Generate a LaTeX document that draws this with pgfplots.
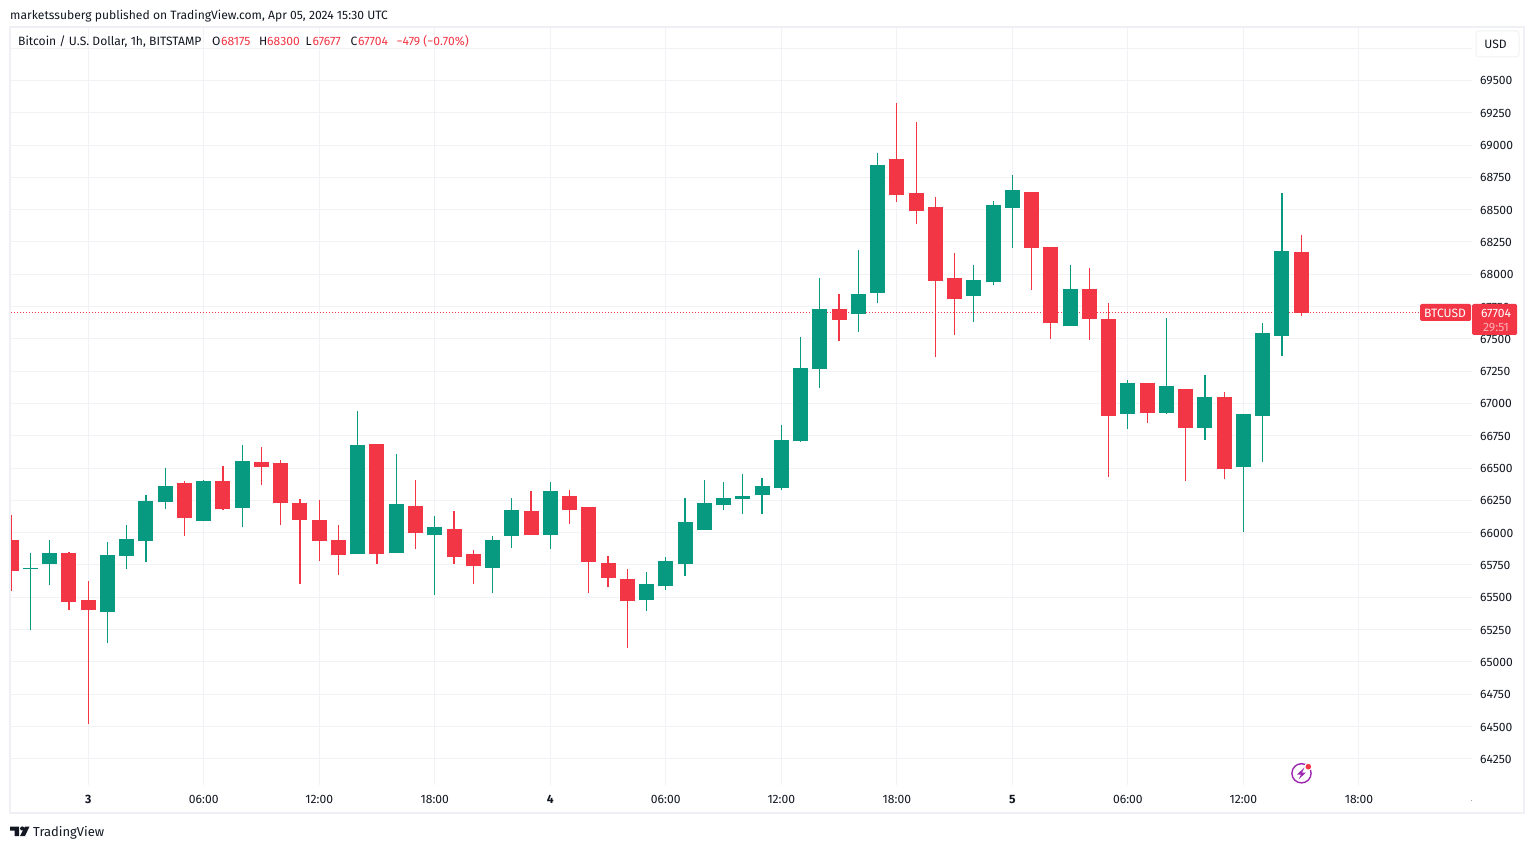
\documentclass[border=0pt]{standalone}
\usepackage{fontspec}
\setmainfont{Fira Sans}
\usepackage{pgfplots}
\usepackage{pgfplotstable}
\pgfplotsset{compat=1.18}
\definecolor{tvgreen}{HTML}{089981}
\definecolor{tvred}{HTML}{F23645}
\definecolor{tvgrid}{HTML}{F1F2F5}
\definecolor{tvframe}{HTML}{EFF0F5}
\definecolor{tvtext}{HTML}{131722}
\definecolor{tvpurple}{HTML}{9C27B0}
\newcommand{\tvfont}{\fontsize{12.1}{14}\selectfont}
\pgfplotstableread{
h o hi l c
-3 65715 65841 65245 65725
-2 65756 65942 65593 65841
1 65384 65926 65144 65826
2 65818 66058 65717 65950
3 65934 66290 65771 66244
4 66236 66499 66182 66360
6 66089 66406 66089 66399
8 66190 66677 66042 66553
14 65833 66941 65833 66677
16 65841 66608 65841 66220
18 65980 66128 65516 66042
21 65725 65973 65531 65942
22 65973 66267 65880 66174
24 65980 66391 65872 66321
29 65477 65694 65392 65601
30 65586 65810 65555 65779
31 65756 66267 65663 66081
32 66019 66406 66019 66228
33 66213 66391 66174 66267
34 66259 66453 66144 66282
35 66290 66422 66144 66360
36 66344 66832 66329 66716
37 66708 67513 66700 67273
38 67266 67970 67119 67730
40 67692 68187 67552 67847
41 67854 68938 67777 68845
46 67831 68071 67630 67955
47 67939 68567 67916 68536
48 68512 68768 68203 68652
51 67599 68071 67599 67885
54 66917 67181 66801 67157
56 66925 67661 66917 67134
58 66809 67219 66716 67049
60 66507 66917 66004 66917
61 66902 67622 66546 67545
62 67521 68629 67366 68180
}\upcandles
\pgfplotstableread{
h o hi l c
-4 65942 66135 65547 65702
-1 65841 65849 65400 65462
0 65477 65624 64517 65400
5 66383 66399 65973 66112
7 66399 66515 66174 66182
9 66546 66662 66368 66507
10 66538 66561 66058 66228
11 66228 66259 65601 66097
12 66097 66252 65779 65934
13 65942 66058 65671 65826
15 66685 66685 65756 65833
17 66205 66406 65872 65996
19 66027 66166 65756 65810
20 65833 65864 65601 65740
23 66166 66321 65980 65980
25 66282 66329 66066 66174
26 66197 66197 65531 65771
27 65764 65818 65578 65648
28 65640 65717 65106 65469
39 67730 67846 67483 67645
42 68892 69325 68559 68613
43 68629 69178 68388 68489
44 68520 68598 67359 67947
45 67970 68164 67529 67808
49 68636 68636 67878 68203
50 68210 68210 67498 67622
52 67885 68048 67490 67653
53 67653 67777 66430 66902
55 67157 67157 66848 66925
57 67111 67111 66399 66809
59 67049 67088 66414 66492
63 68175 68300 67677 67704
}\downcandles
\begin{document}
\begin{tikzpicture}
\path[fill=white] (0pt,0pt) rectangle (1534pt,849pt);
\begin{axis}[
  at={(11pt,64pt)}, anchor=south west,
  scale only axis, width=1461pt, height=757pt,
  xmin=-4.009, xmax=71.87, ymin=64047, ymax=69906,
  axis line style={draw=none},
  major tick length=0pt,
  tick style={draw=none},
  grid=major,
  grid style={color=tvgrid, line width=1pt},
  xtick={0,6,12,18,24,30,36,42,48,54,60,66},
  xticklabels={\textbf{3},06:00,12:00,18:00,\textbf{4},06:00,12:00,18:00,\textbf{5},06:00,12:00,18:00},
  ytick={64250,64500,...,69500},
  extra y ticks={69750},
  extra y tick labels={},
  yticklabel pos=right,
  scaled y ticks=false,
  /pgf/number format/fixed,
  /pgf/number format/precision=0,
  /pgf/number format/1000 sep={},
  /pgf/number format/assume math mode=true,
  ticklabel style={font=\tvfont, text=tvtext, inner sep=0pt},
  xticklabel style={yshift=-10.3pt},
  yticklabel style={anchor=west, xshift=8pt, yshift=-0.5pt},
  clip=true,
]
\addplot[forget plot, draw=tvred, mark=none, dotted, line width=1pt] coordinates {(-4.009,67704) (63,67704) (71.87,67704)};
\addplot[draw=none, mark=none, forget plot, error bars/.cd, y dir=plus, y explicit, error mark=none, error bar style={line width=1.2pt, draw=tvgreen}]
  table[x=h, y=l, y error expr=\thisrow{hi}-\thisrow{l}] {\upcandles};
\addplot[draw=none, mark=none, forget plot, error bars/.cd, y dir=plus, y explicit, error mark=none, error bar style={line width=15pt, draw=tvgreen}]
  table[x=h, y=o, y error expr=\thisrow{c}-\thisrow{o}] {\upcandles};
\addplot[draw=none, mark=none, forget plot, error bars/.cd, y dir=plus, y explicit, error mark=none, error bar style={line width=1.2pt, draw=tvred}]
  table[x=h, y=l, y error expr=\thisrow{hi}-\thisrow{l}] {\downcandles};
\addplot[draw=none, mark=none, forget plot, error bars/.cd, y dir=plus, y explicit, error mark=none, error bar style={line width=15pt, draw=tvred}]
  table[x=h, y=c, y error expr=\thisrow{o}-\thisrow{c}] {\downcandles};
\end{axis}
\begin{scope}[shift={(0pt,849pt)}, x=1pt, y=-1pt, every node/.style={inner sep=0pt, font=\tvfont, text=tvtext}]
  \draw[tvframe, line width=2pt] (10,27) rectangle (1524,813);
  % header
  \node[anchor=base west] at (10,19.3) {marketssuberg published on TradingView.com, Apr 05, 2024 15:30 UTC};
  \node[anchor=base west] at (18,45.5) {Bitcoin / U.S. Dollar, 1h, BITSTAMP};
  \node[anchor=base west] at (212,45.5) {O};
  \node[anchor=base west, text=tvred] at (221,45.5) {68175};
  \node[anchor=base west] at (259,45.5) {H};
  \node[anchor=base west, text=tvred] at (267,45.5) {68300};
  \node[anchor=base west] at (305.5,45.5) {L};
  \node[anchor=base west, text=tvred] at (312.5,45.5) {67677};
  \node[anchor=base west] at (350.5,45.5) {C};
  \node[anchor=base west, text=tvred] at (358,45.5) {67704};
  \node[anchor=base west, text=tvred] at (396.5,45.5) {−479 (−0.70\%)};
  % USD button
  \draw[draw=tvgrid, fill=white, line width=1pt, rounded corners=3pt] (1476,31) rectangle (1519,57);
  \node at (1495.5,44) {USD};
  % price labels
  \fill[tvred, rounded corners=1.5pt] (1420,304) rectangle (1471,321);
  \node[text=white] at (1445,313) {BTCUSD};
  \fill[tvred, rounded corners=1.5pt] (1472,304) rectangle (1517,335);
  \node[text=white] at (1496,313) {67704};
  \node[text=white!60!tvred] at (1496,328) {29:51};
  % small end tick on the time scale
  \fill[black!35] (1471,799.5) rectangle (1472,801);
  % lightning icon
  \draw[tvpurple, line width=1.4pt] (1301.5,773.3) circle[radius=9.6];
  \fill[white] (1308.3,766.7) circle[radius=4];
  \fill[tvpurple] (1304.5,767.5) -- (1297,774.5) -- (1301,774.5) -- (1298.5,779.5) -- (1306,772.5) -- (1302,772.5) -- cycle;
  \fill[tvred] (1308.3,766.7) circle[radius=2.8];
  % logo
  \fill[tvtext] (10,826.5) -- (19,826.5) -- (19,836) -- (14.5,836) -- (14.5,830.5) -- (10,830.5) -- cycle;
  \fill[tvtext] (22.2,828.5) circle[radius=2.1];
  \fill[tvtext] (25,826.5) -- (29.5,826.5) -- (25,836) -- (20,836) -- cycle;
  \node[anchor=base west, font=\fontsize{13}{15}\selectfont] at (33,836) {TradingView};
\end{scope}
\end{tikzpicture}
\end{document}
